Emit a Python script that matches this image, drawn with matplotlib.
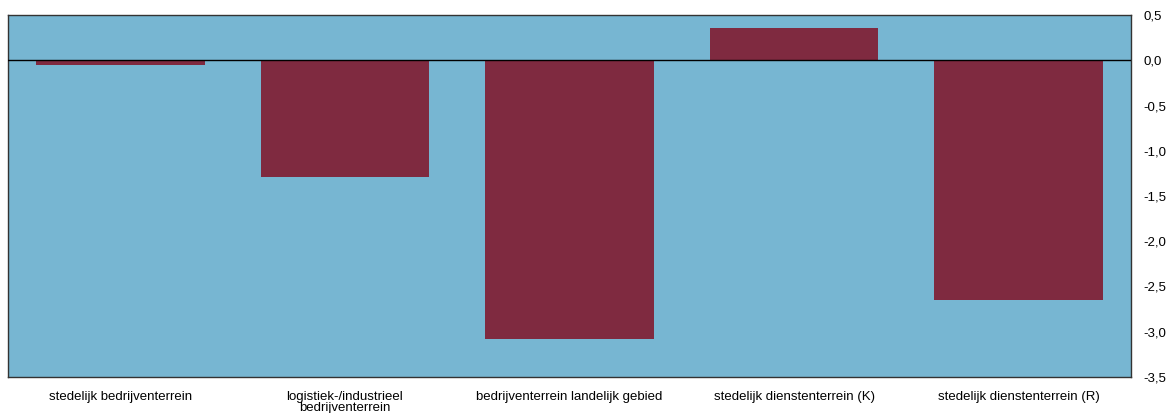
import matplotlib.pyplot as plt
import numpy as np

categories = [
    'stedelijk bedrijventerrein',
    'logistiek-/industrieel\nbedrijventerrein',
    'bedrijventerrein landelijk gebied',
    'stedelijk dienstenterrein (K)',
    'stedelijk dienstenterrein (R)',
]
values = [-0.05, -1.29, -3.08, 0.36, -2.65]
y_ticks = [0.5, 0.0, -0.5, -1.0, -1.5, -2.0, -2.5, -3.0, -3.5]

plt.rcParams['font.family'] = ['Liberation Sans', 'DejaVu Sans']

fig = plt.figure(figsize=(11.7, 4.13), dpi=100)
ax = fig.add_axes([8 / 1170, 1 - 377 / 413, (1131 - 8) / 1170, (377 - 15) / 413])
ax.set_facecolor('#77b6d2')

x = np.arange(len(categories))
ax.bar(x, values, width=0.75, color='#7f2a40', zorder=2)
ax.axhline(0, color='black', linewidth=1, zorder=3)

ax.set_xlim(-0.5, len(categories) - 0.5)
ax.set_ylim(-3.5, 0.5)
ax.set_xticks(x)
ax.set_xticklabels(categories, fontsize=9.5, linespacing=0.9)
ax.set_yticks(y_ticks)
ax.set_yticklabels([f'{v:.1f}'.replace('.', ',') for v in y_ticks], fontsize=9.5)
ax.yaxis.tick_right()
ax.tick_params(axis='both', length=0)
ax.tick_params(axis='x', pad=10)
ax.tick_params(axis='y', pad=9)

for s in ax.spines.values():
    s.set_color('#333333')
    s.set_linewidth(1)

fig.savefig('out.png', dpi=100)
